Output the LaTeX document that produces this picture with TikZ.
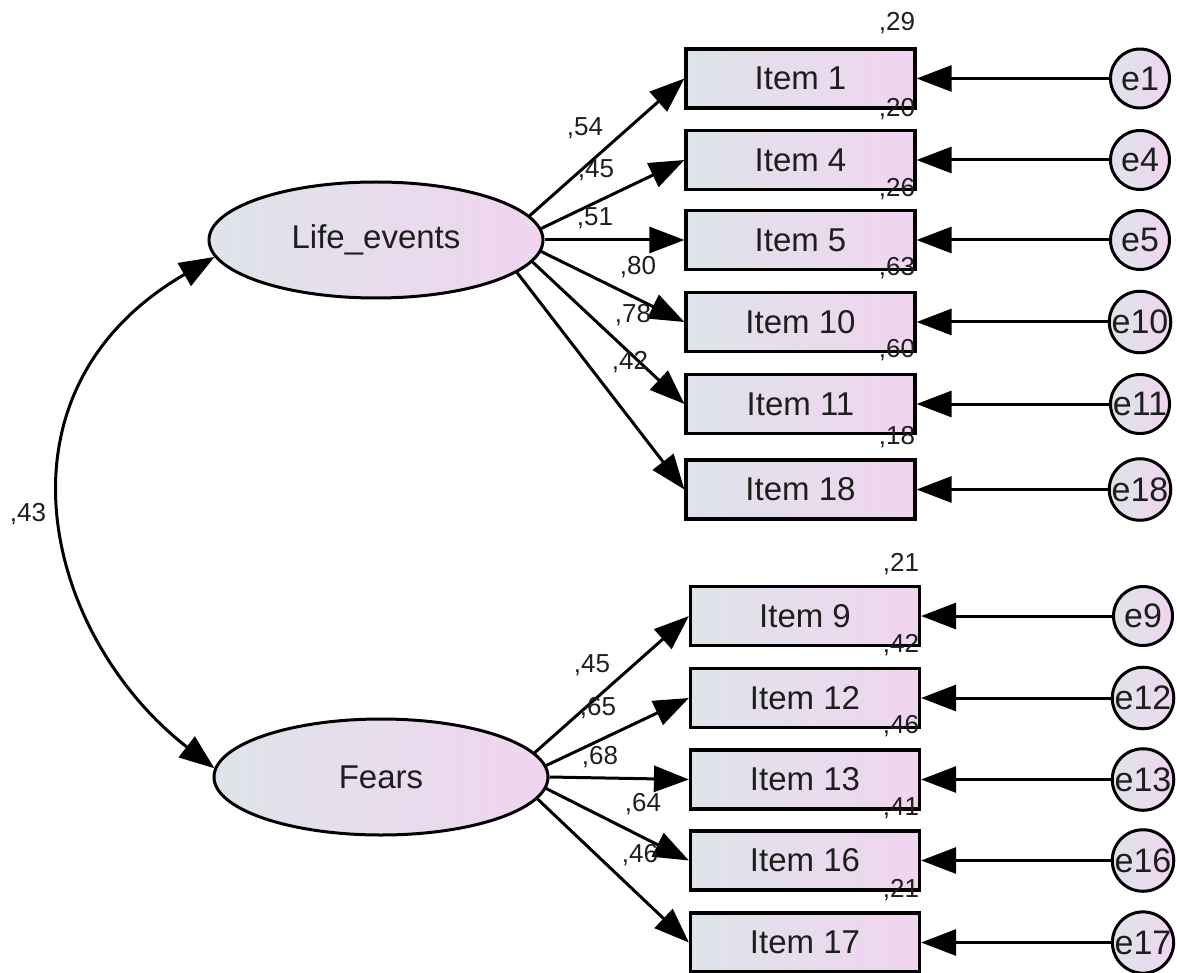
\documentclass[tikz,border=0pt]{standalone}
\usepackage{fontspec}
\setmainfont{Liberation Sans}
\usetikzlibrary{arrows.meta,shapes.geometric}
\definecolor{lc}{RGB}{222,228,233}
\definecolor{rc}{RGB}{241,212,240}
\definecolor{tx}{RGB}{30,30,30}
\tikzset{
  obs/.style={draw, line width=3.2pt, minimum width=229pt, minimum height=59pt,
    left color=lc, right color=rc, inner sep=0pt, text=tx,
    font=\fontsize{33}{36}\selectfont},
  lat/.style={draw, ellipse, line width=3pt, minimum width=334pt, minimum height=116pt,
    left color=lc, right color=rc, inner sep=0pt, text=tx,
    font=\fontsize{33}{36}\selectfont},
  err/.style={draw, circle, line width=3pt, minimum size=59pt, inner sep=0pt,
    left color=lc, right color=rc, text=tx,
    font=\fontsize{34}{36}\selectfont},
  conn/.style={line width=3pt, -{Triangle[length=35pt,width=26pt]}},
  cov/.style={line width=3pt, {Triangle[length=35pt,width=26pt]}-{Triangle[length=35pt,width=26pt]}},
  lbl/.style={inner sep=0pt, text=tx, font=\fontsize{26}{28}\selectfont},
}
\begin{document}
\begin{tikzpicture}[x=1pt,y=-1pt]
\useasboundingbox (0,0) rectangle (1177,973);

% latent variables
\node[lat] (LE) at (376,240) {Life\_events};
\node[lat] (FE) at (381,777) {Fears};

% observed items (upper)
\node[obs] (I1)  at (800.5,78.5) {Item 1};
\node[obs] (I4)  at (800.5,160) {Item 4};
\node[obs] (I5)  at (800.5,240) {Item 5};
\node[obs] (I10) at (800.5,322) {Item 10};
\node[obs] (I11) at (800.5,404) {Item 11};
\node[obs] (I18) at (800.5,489.5) {Item 18};
% observed items (lower)
\node[obs] (I9)  at (805,616) {Item 9};
\node[obs] (I12) at (805,698) {Item 12};
\node[obs] (I13) at (805,779.5) {Item 13};
\node[obs] (I16) at (805,860.5) {Item 16};
\node[obs] (I17) at (805,942.5) {Item 17};

% error terms
\node[err] (e1)  at (1140,78.5) {e1};
\node[err] (e4)  at (1140,160) {e4};
\node[err] (e5)  at (1140,240) {e5};
\node[err] (e10) at (1140,322) {e10};
\node[err] (e11) at (1140,404) {e11};
\node[err] (e18) at (1140,489.5) {e18};
\node[err] (e9)  at (1143,616) {e9};
\node[err] (e12) at (1143,698) {e12};
\node[err] (e13) at (1143,779.5) {e13};
\node[err] (e16) at (1143,860.5) {e16};
\node[err] (e17) at (1143,942.5) {e17};

% error arrows
\foreach \e/\i in {e1/I1,e4/I4,e5/I5,e10/I10,e11/I11,e18/I18,e9/I9,e12/I12,e13/I13,e16/I16,e17/I17}
  \draw[conn] (\e) -- (\i.east);

% loadings
\draw[conn] (LE.9)   -- (I1.west);
\draw[conn] (LE.4.5) -- (I4.west);
\draw[conn] (LE.0)   -- (I5.west);
\draw[conn] (LE.-4.2) -- (I10.west);
\draw[conn] (LE.-8.3) -- (I11.west);
\draw[conn] (LE.-13) -- (I18.west);

\draw[conn] (FE.9)   -- (I9.west);
\draw[conn] (FE.4.5) -- (I12.west);
\draw[conn] (FE.0)   -- (I13.west);
\draw[conn] (FE.-4.2) -- (I16.west);
\draw[conn] (FE.-8.5) -- (I17.west);

% covariance
\draw[cov] (LE.186) .. controls (-18,392) and (45,637) .. (FE.177);

% loading labels
\node[lbl] (l1)  at (585,128) {,54};
\node[lbl] (l4)  at (596,170) {,45};
\node[lbl] (l5)  at (595,218) {,51};
\node[lbl] (l10) at (638,267) {,80};
\node[lbl] (l11) at (633,315) {,78};
\node[lbl] (l18) at (630,362) {,42};
\node[lbl] (l9)  at (592,665) {,45};
\node[lbl] (l12) at (598,708) {,65};
\node[lbl] (l13) at (600,757) {,68};
\node[lbl] (l16) at (643,804) {,64};
\node[lbl] (l17) at (640,855) {,46};

% squared multiple correlations
\node[lbl] (r1)  at (897,23) {,29};
\node[lbl] (r4)  at (897,109) {,20};
\node[lbl] (r5)  at (897,189) {,26};
\node[lbl] (r10) at (897,268) {,63};
\node[lbl] (r11) at (897,350) {,60};
\node[lbl] (r18) at (897,437) {,18};
\node[lbl] (r9)  at (901,564) {,21};
\node[lbl] (r12) at (901,645) {,42};
\node[lbl] (r13) at (901,726) {,46};
\node[lbl] (r16) at (901,808) {,41};
\node[lbl] (r17) at (901,890) {,21};

% covariance label
\node[lbl] (c1) at (28,514) {,43};
\end{tikzpicture}
\end{document}
